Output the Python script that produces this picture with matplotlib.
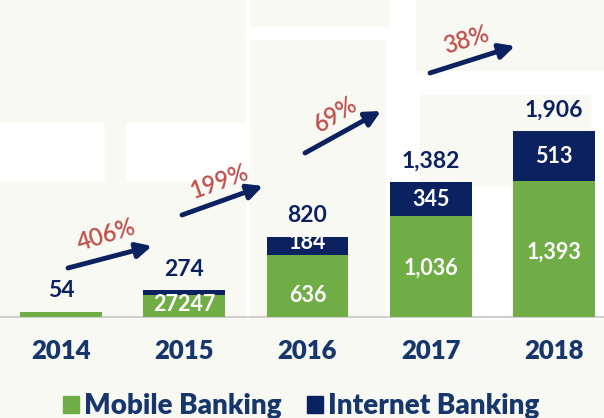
import matplotlib.pyplot as plt
from matplotlib.patches import Rectangle

# data
years = ['2014', '2015', '2016', '2017', '2018']
mobile = [54, 227, 636, 1036, 1393]
internet = [0, 47, 184, 345, 513]
totals = ['54', '274', '820', '1,382', '1,906']
mobile_labels = ['', '272', '636', '1,036', '1,393']
internet_labels = ['', '47', '184', '345', '513']
growth = ['406%', '199%', '69%', '38%']

GREEN = '#70ad47'
NAVY = '#0c2160'
TEXT = '#17366b'
RED = '#c0504d'

plt.rcParams['font.family'] = ['Lato', 'DejaVu Sans']

W, H = 604, 418
fig = plt.figure(figsize=(W / 100, H / 100), dpi=100)
fig.patch.set_facecolor('white')

# faint background blocks
for (x0, y0, w, h) in [(0, 0, 245, 122), (0, 182, 105, 240), (105, 40, 20, 380),
                       (125, 182, 120, 240), (250, 0, 138, 26), (250, 40, 135, 280),
                       (416, 0, 188, 70), (420, 95, 170, 90),
                       (145, 320, 460, 100), (0, 320, 140, 100)]:
    fig.patches.append(Rectangle((x0 / W, 1 - (y0 + h) / H), w / W, h / H,
                                 transform=fig.transFigure, color='#f8f9f3', zorder=-5))

ax = fig.add_axes([0, 0, 1, 1])
ax.set_zorder(1)
ax.patch.set_alpha(0)
ax.set_xlim(-0.495, 4.406)
ax.set_ylim(-1035, 3249)
ax.axis('off')

x = range(len(years))
ax.bar(x, mobile, width=0.665, color=GREEN, zorder=2)
ax.bar(x, internet, width=0.665, bottom=mobile, color=NAVY, zorder=2)
ax.axhline(0, color='#d0d0d0', lw=1.5, zorder=1)

def px(xp, yp):
    return (xp / W, 1 - yp / H)

for i, yr in enumerate(years):
    total = mobile[i] + internet[i]
    ax.text(i, total + 110, totals[i], ha='center', va='bottom', color=NAVY,
            fontsize=16.5, fontweight='bold', zorder=3)
    ax.text(i, -350, yr, ha='center', va='center', color=TEXT,
            fontsize=18.5, fontweight='heavy')
    if i >= 2:
        ax.text(i, mobile[i] * (0.34 if i == 2 else 0.48), mobile_labels[i],
                ha='center', va='center', color='white', fontsize=15.5,
                fontweight='bold', zorder=3)
        ax.text(i, mobile[i] + internet[i] / 2 + (40 if i == 2 else 0), internet_labels[i],
                ha='center', va='center', color='white', fontsize=15.5,
                fontweight='bold', zorder=3)

# 2015 labels overlap in the source
ax.text(1, 125, '27247', ha='center', va='center', color='white', fontsize=15.5,
        fontweight='bold', zorder=3)

# growth arrows
arrows = [((68, 268), (152, 246), (106, 235), 17),
          ((182, 215), (263, 186), (219, 182), 20),
          ((305, 153), (381, 111), (336, 114), 32),
          ((430, 73), (515, 46), (466, 40), 17)]
for g, (tail, tip, tpos, rot) in zip(growth, arrows):
    ax.annotate('', xy=px(*tip), xytext=px(*tail), xycoords='figure fraction',
                textcoords='figure fraction',
                arrowprops=dict(arrowstyle='-|>,head_length=0.9,head_width=0.45',
                                color=NAVY, lw=3.5, shrinkA=0, shrinkB=0))
    ax.text(*px(*tpos), g, transform=fig.transFigure, ha='center', va='center',
            rotation=rot, color=RED, fontsize=17, fontweight='semibold')

# legend
ax.add_patch(Rectangle(px(63, 413), 16 / W, 17 / H, transform=fig.transFigure,
                       color=GREEN, clip_on=False))
ax.text(*px(84, 406), 'Mobile Banking', transform=fig.transFigure, ha='left',
        va='center', color=TEXT, fontsize=20, fontweight='heavy')
ax.add_patch(Rectangle(px(307, 413), 16 / W, 17 / H, transform=fig.transFigure,
                       color=NAVY, clip_on=False))
ax.text(*px(328, 406), 'Internet Banking', transform=fig.transFigure, ha='left',
        va='center', color=TEXT, fontsize=20, fontweight='heavy')

fig.savefig('out.png', dpi=100)
